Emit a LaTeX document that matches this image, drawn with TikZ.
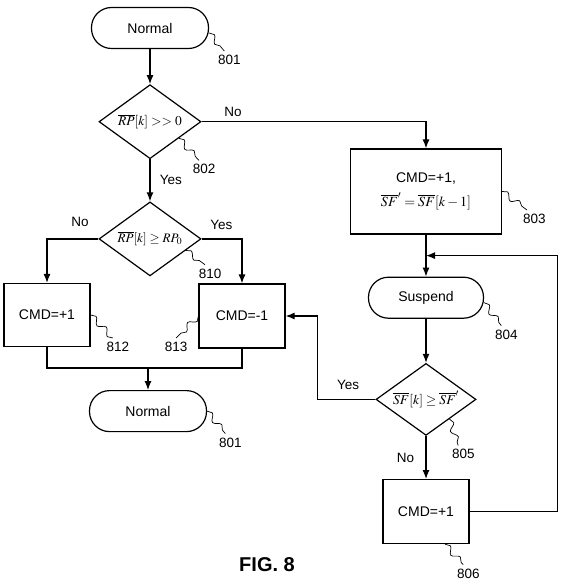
\documentclass[tikz,border=0pt]{standalone}
\usepackage{mathptmx}
\usepackage{fontspec}
\setmainfont{Liberation Sans}
\usetikzlibrary{positioning}
\usetikzlibrary{shapes}
\usetikzlibrary{calc}
\usetikzlibrary{arrows.meta}
\usetikzlibrary{decorations.pathmorphing}
\tikzset{>={Latex[length=9pt,width=7pt]}}

\begin{document}
\begin{tikzpicture}[
            x=1pt, y=-1pt, line width=1.2pt,
            terminal/.style={rectangle, rounded corners=20pt, draw, minimum width=117pt, minimum height=41pt, font=\fontsize{14}{16}\selectfont},
            process/.style={rectangle, draw, minimum width=86pt, minimum height=63pt, font=\fontsize{14}{16}\selectfont},
            decision/.style={diamond, draw, aspect=1.38, inner sep=0pt, minimum width=102pt, minimum height=74pt, font=\fontsize{13.5}{16}\selectfont},
            refnum/.style={inner sep=0pt, outer sep=4pt, font=\fontsize{13.5}{15}\selectfont},
            leader/.style={line width=0.7pt, decorate, decoration={snake, segment length=15pt, amplitude=3pt}},
            branch/.style={font=\fontsize{13.5}{15}\selectfont}
        ]
        \useasboundingbox (0,0) rectangle (566,588);
        % left column
        \node[terminal] (start1) at (150,28) {Normal};
        \node[refnum, below right = 23pt and 5pt of start1.east] (n801a) {801};
        \draw[leader] ([yshift=-5pt]start1.east) -- (n801a.120);
        \node[decision, below = 35pt of start1] (d802) {$\overline{RP}[k] \mathrel{>>} 0$};
        \node[refnum, below right = 20pt and 13pt of d802.south east] (n802) {802};
        \draw[leader] (d802.-30) -- (n802.120);
        \draw[->] (start1) -- (d802);
        \node[decision, below = 42pt of d802, font=\fontsize{13}{16}\selectfont] (d810) {$\overline{RP}[k] \geq RP_0$};
        \node[refnum, below right = 7pt and 19pt of d810.south east] (n810) {810};
        \draw[leader] (d810.-18) -- (n810.120);
        \draw[->] (d802) -- node[branch, right=6pt] {Yes} (d810);
        \node[process] (b812) at (47,315) {CMD=+1};
        \node[refnum, below right = 23pt and 12pt of b812.east] (n812) {812};
        \draw[leader] (b812.east) -- (n812.120);
        \node[process, minimum height=64pt] (b813) at (242,316) {CMD=-1};
        \node[refnum, below left = 22pt and 7pt of b813.west] (n813) {813};
        \draw[leader] (b813.west) -- (n813.90);
        \draw[->] (d810.west) -| node[branch, above=8pt, pos=0.18] {No} (b812.north);
        \draw[->] (d810.east) -| node[branch, above=5pt, pos=0.245] {Yes} (b813.north);
        \coordinate (merge) at (148,368);
        \draw (b812.south) |- (merge) -| (b813.south);
        \node[terminal, below = 22pt of merge] (end1) {Normal};
        \node[refnum, below right = 22.5pt and 8pt of end1.east] (n801b) {801};
        \draw[leader] (end1.east) -- (n801b.120);
        \draw[->] (merge) -- (end1);
        % right column
        \node[process, minimum width=151pt, minimum height=85pt, align=center] (b803) at (426,191.5) {CMD=+1,\\[8pt] $\overline{SF}' = \overline{SF}[k-1]$};
        \node[refnum, below right = 18.5pt and 17pt of b803.east] (n803) {803};
        \draw[leader] (b803.east) -- (n803.130);
        \draw[->] (d802.east) -| node[branch, above=1pt, pos=0.07] {No} (b803.north);
        \node[terminal, minimum width=115pt, below = 42pt of b803] (sus) {Suspend};
        \node[refnum, below right = 28pt and 7pt of sus.east] (n804) {804};
        \draw[leader] ([yshift=-5pt]sus.east) -- (n804.120);
        \coordinate (join) at ($(b803.south)!0.5!(sus.north)$);
        \draw[->] (b803) -- (sus);
        \node[decision, minimum width=100pt, minimum height=72pt, below = 44pt of sus] (d805) {$\overline{SF}[k] \geq \overline{SF}'$};
        \node[refnum, below right = 9.5pt and 22pt of d805.south] (n805) {805};
        \draw[leader] (d805.-40) -- (n805.120);
        \draw[->] (sus) -- (d805);
        \node[process, minimum height=64pt, below = 43pt of d805] (b806) {CMD=+1};
        \node[refnum, below right = 20.5pt and 27pt of b806.south] (n806) {806};
        \draw[leader] ([xshift=19pt]b806.south) -- (n806.120);
        \draw[->] (d805) -- node[branch, left=8pt] {No} (b806);
        \draw[->] (d805.west) -- node[branch, above=6pt, pos=0.47] {Yes} ++(-58pt,0) |- (b813.east);
        \draw[->] (b806.east) -- ++(88pt,0) |- (join);
        \node[font=\bfseries\fontsize{20}{24}\selectfont] (fig) at (267,565) {FIG. 8};
        \end{tikzpicture}
\end{document}
